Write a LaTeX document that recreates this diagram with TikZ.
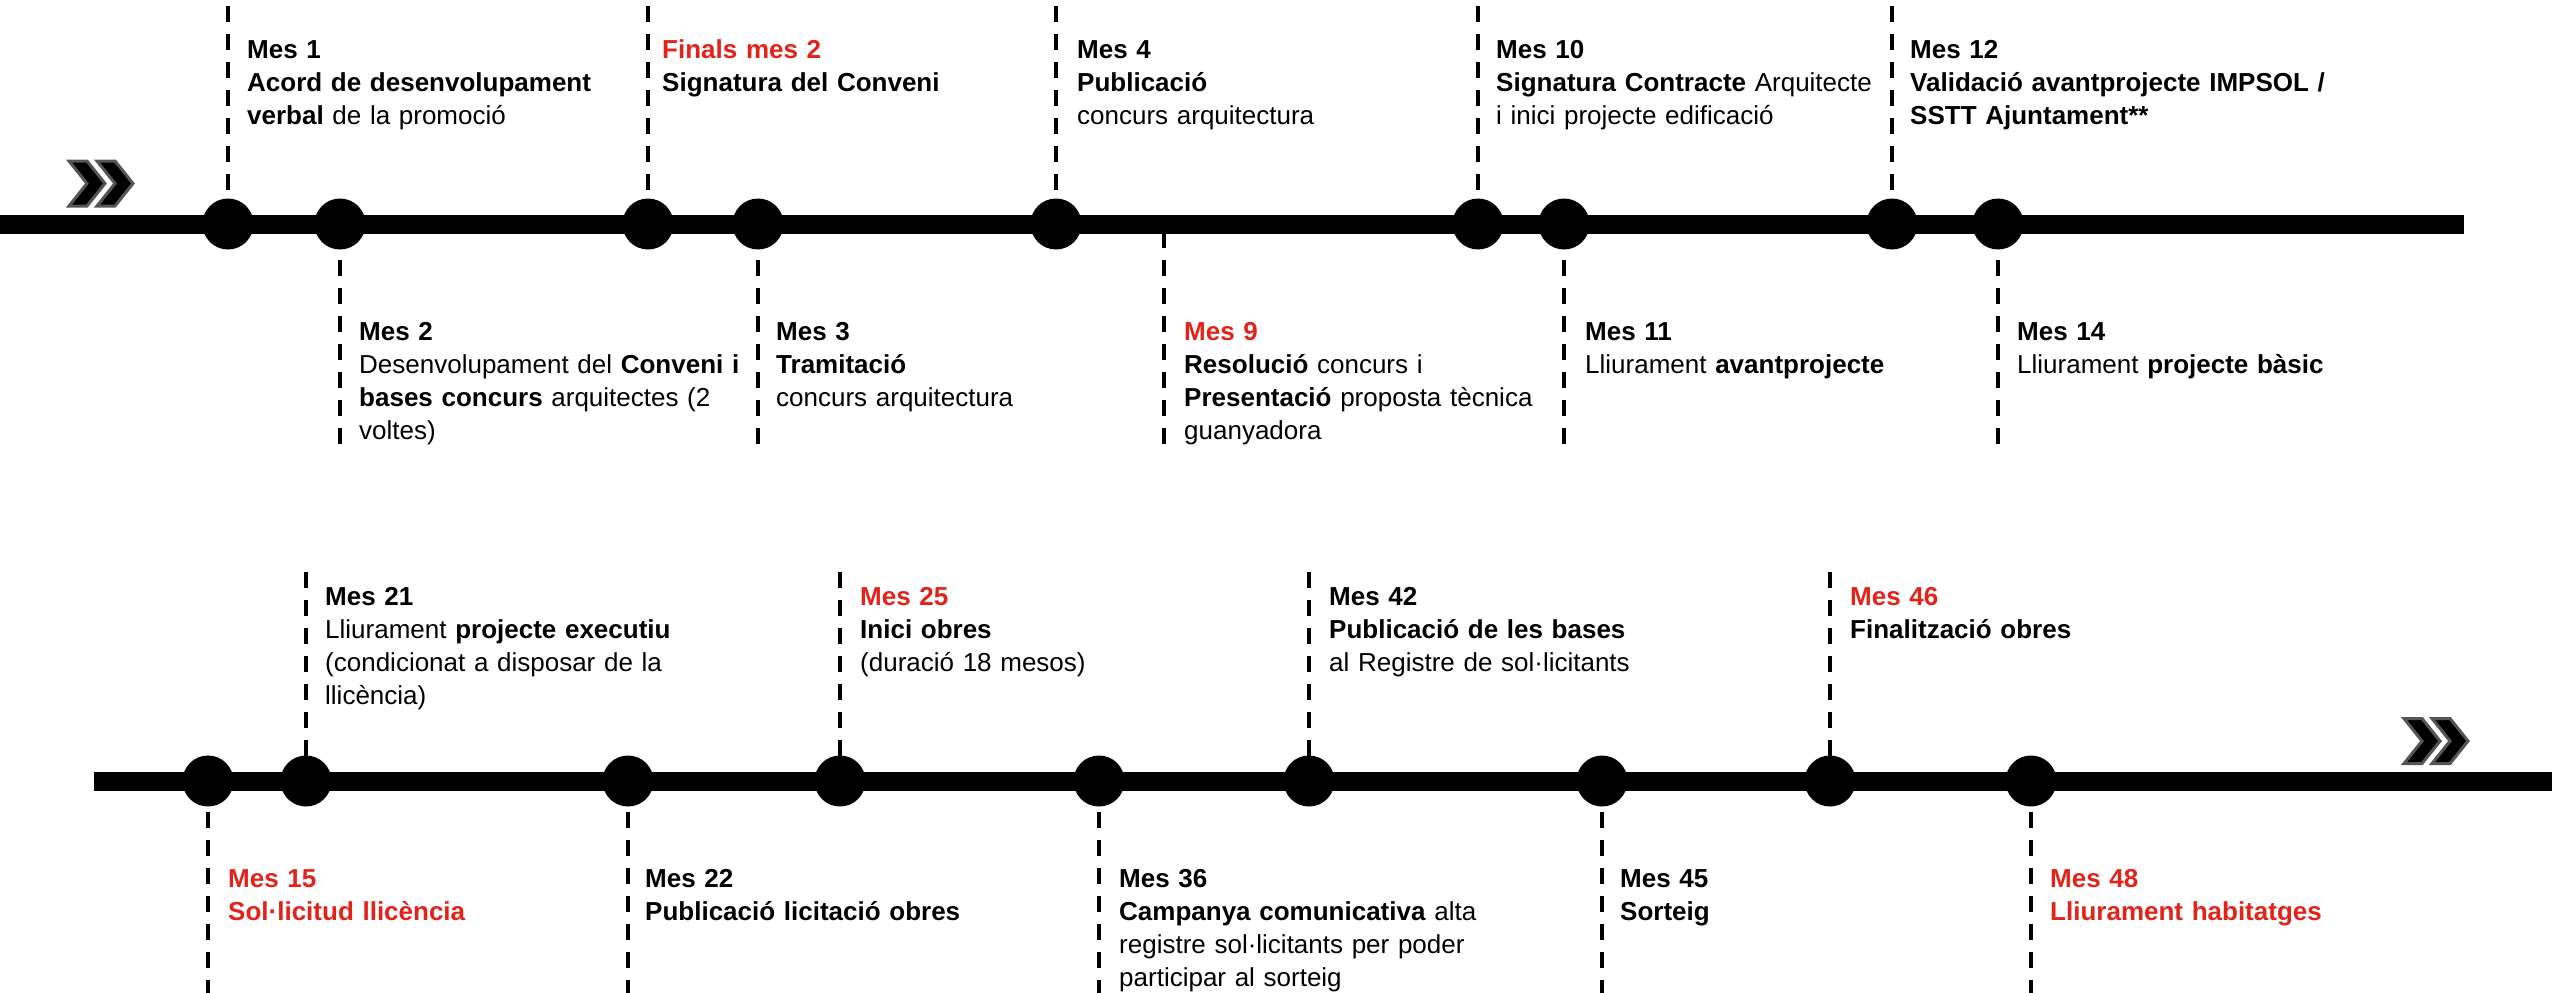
\documentclass[tikz,border=0pt]{standalone}
\usepackage{fontspec}
\setmainfont{Liberation Sans}
\definecolor{myred}{RGB}{226,35,26}
\definecolor{chevgray}{RGB}{85,85,85}
\begin{document}
\begin{tikzpicture}[x=1pt,y=-1pt,
  mainline/.style={line width=19pt},
  dot/.style={circle,fill=black,inner sep=0pt,minimum size=51pt},
  dl/.style={line width=4pt,dash pattern=on 16pt off 12pt},
  lbl/.style={anchor=base west,inner sep=0pt,text width=560pt,align=left,font=\fontsize{26}{33}\selectfont},
  hl/.style={text=myred},
  chev/.style={fill=black,draw=chevgray,line width=3pt,line join=miter}
]
\useasboundingbox (0,0) rectangle (2552,993);
\fill[white] (0,0) rectangle (2552,993);

% ---------- top timeline ----------
\coordinate (L1a) at (0,224);
\coordinate (L1b) at (2464,224);
\draw[mainline] (L1a) -- (L1b);
\foreach \n/\x in {1/228,2/340,3/648,4/758,5/1056,6/1478,7/1564,8/1892,9/1998}
  \node[dot] (t\n) at (\x,224) {};
\foreach \n in {1,3,5,6,8} {
  \coordinate (tu\n a) at (t\n |- 0,6);
  \coordinate (tu\n b) at (t\n |- 0,190);
  \draw[dl] (tu\n a) -- (tu\n b);
}
\foreach \n in {2,4,7,9} {
  \coordinate (td\n a) at (t\n |- 0,260);
  \coordinate (td\n b) at (t\n |- 0,444);
  \draw[dl] (td\n a) -- (td\n b);
}
\coordinate (m9a) at (1164,232);
\coordinate (m9b) at (1164,444);
\draw[dl] (m9a) -- (m9b);

% ---------- bottom timeline ----------
\coordinate (L2a) at (94,781);
\coordinate (L2b) at (2552,781);
\draw[mainline] (L2a) -- (L2b);
\foreach \n/\x in {1/208,2/306,3/628,4/840,5/1099,6/1309,7/1602,8/1830,9/2031}
  \node[dot] (b\n) at (\x,781) {};
\foreach \n in {2,4,6,8} {
  \coordinate (bu\n a) at (b\n |- 0,572);
  \coordinate (bu\n b) at (b\n |- 0,756);
  \draw[dl] (bu\n a) -- (bu\n b);
}
\foreach \n in {1,3,5,7,9} {
  \coordinate (bd\n a) at (b\n |- 0,812);
  \coordinate (bd\n b) at (b\n |- 0,996);
  \draw[dl] (bd\n a) -- (bd\n b);
}

% ---------- chevrons ----------
\foreach \sx/\sy in {0/0,2335/557.5} {
  \begin{scope}[shift={(\sx,\sy)}]
    \filldraw[chev] (69,161) -- (87,161) -- (105,183.5) -- (87,206) -- (69,206) -- (87,183.5) -- cycle;
    \filldraw[chev] (97,161) -- (115,161) -- (133,183.5) -- (115,206) -- (97,206) -- (115,183.5) -- cycle;
  \end{scope}
}

% ---------- top row labels ----------
\node[lbl] (lt1) at (247,58) {\textbf{Mes 1}\\\textbf{Acord de desenvolupament}\\\textbf{verbal} de la promoció};
\node[lbl] (lt3) at (662,58) {\textbf{\textcolor{myred}{Finals mes 2}}\\\textbf{Signatura del Conveni}};
\node[lbl] (lt5) at (1077,58) {\textbf{Mes 4}\\\textbf{Publicació}\\concurs arquitectura};
\node[lbl] (lt6) at (1496,58) {\textbf{Mes 10}\\\textbf{Signatura Contracte} Arquitecte\\i inici projecte edificació};
\node[lbl] (lt8) at (1910,58) {\textbf{Mes 12}\\\textbf{Validació avantprojecte IMPSOL /}\\\textbf{SSTT Ajuntament**}};

\node[lbl] (lt2) at (359,340) {\textbf{Mes 2}\\Desenvolupament del \textbf{Conveni i}\\\textbf{bases concurs} arquitectes (2\\voltes)};
\node[lbl] (lt4) at (776,340) {\textbf{Mes 3}\\\textbf{Tramitació}\\concurs arquitectura};
\node[lbl] (lt9m) at (1184,340) {\textbf{\textcolor{myred}{Mes 9}}\\\textbf{Resolució} concurs i\\\textbf{Presentació} proposta tècnica\\guanyadora};
\node[lbl] (lt7) at (1585,340) {\textbf{Mes 11}\\Lliurament \textbf{avantprojecte}};
\node[lbl] (lt9) at (2017,340) {\textbf{Mes 14}\\Lliurament \textbf{projecte bàsic}};

% ---------- bottom row labels ----------
\node[lbl] (lb2) at (325,605) {\textbf{Mes 21}\\Lliurament \textbf{projecte executiu}\\(condicionat a disposar de la\\llicència)};
\node[lbl] (lb4) at (860,605) {\textbf{\textcolor{myred}{Mes 25}}\\\textbf{Inici obres}\\(duració 18 mesos)};
\node[lbl] (lb6) at (1329,605) {\textbf{Mes 42}\\\textbf{Publicació de les bases}\\al Registre de sol·licitants};
\node[lbl] (lb8) at (1850,605) {\textbf{\textcolor{myred}{Mes 46}}\\\textbf{Finalització obres}};

\node[lbl] (lb1) at (228,887) {\textbf{\textcolor{myred}{Mes 15}}\\\textbf{\textcolor{myred}{Sol·licitud llicència}}};
\node[lbl] (lb3) at (645,887) {\textbf{Mes 22}\\\textbf{Publicació licitació obres}};
\node[lbl] (lb5) at (1119,887) {\textbf{Mes 36}\\\textbf{Campanya comunicativa} alta\\registre sol·licitants per poder\\participar al sorteig};
\node[lbl] (lb7) at (1620,887) {\textbf{Mes 45}\\\textbf{Sorteig}};
\node[lbl] (lb9) at (2050,887) {\textbf{\textcolor{myred}{Mes 48}}\\\textbf{\textcolor{myred}{Lliurament habitatges}}};
\end{tikzpicture}
\end{document}
